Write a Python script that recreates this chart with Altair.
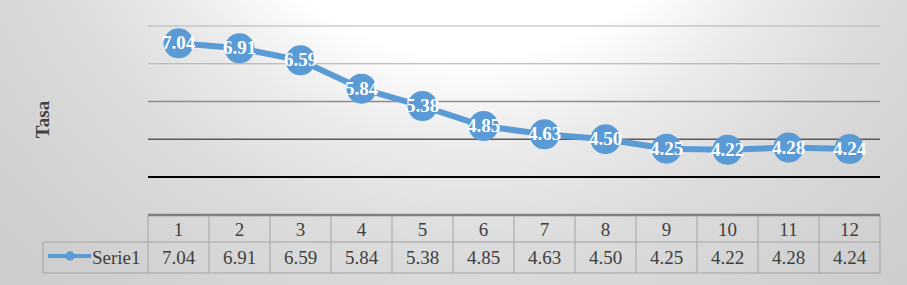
import altair as alt
import pandas as pd

categories = [1, 2, 3, 4, 5, 6, 7, 8, 9, 10, 11, 12]
values = [7.04, 6.91, 6.59, 5.84, 5.38, 4.85, 4.63, 4.50, 4.25, 4.22, 4.28, 4.24]
series_name = "Serie1"
y_title = "Tasa"
grid_values = [3.5, 4.5, 5.5, 6.5, 7.5]
grid_colors = ["#000000", "#5a5a5a", "#8c8c8c", "#acacac", "#b4b4b4"]
grid_widths = [2, 1.5, 1.5, 1, 1]

W, H = 732, 151
BLUE = "#5B9BD5"
FONT = "Liberation Serif"
TXT = "#404040"
TABLE_LINE = "#a3a3a3"

df = pd.DataFrame({"cat": categories, "value": values})
df["label"] = [f"{v:.2f}" for v in values]
grid_df = pd.DataFrame({"g": grid_values, "c": grid_colors, "w": grid_widths})
bounds = [c - 0.5 for c in categories] + [categories[-1] + 0.5]
bounds_df = pd.DataFrame({"b": bounds})
one = pd.DataFrame({"k": [0]})

xs = alt.Scale(domain=[0.5, 12.5], nice=False, zero=False)
ys = alt.Scale(domain=[3.5, 7.5], nice=False, zero=False)
yaxis = alt.Axis(title=y_title, labels=False, ticks=False, domain=False, grid=False,
                 titleX=-106, titleY=93, titleFont=FONT, titleFontSize=19,
                 titleFontWeight="bold", titleColor=TXT, titleAngle=270,
                 titleAlign="center", titleBaseline="middle", zindex=1)

bg = alt.Chart(one).mark_rect(
    fill={"gradient": "radial", "x1": 0.52, "y1": 0.115, "r1": 0,
          "x2": 0.52, "y2": 0.115, "r2": 1,
          "stops": [{"offset": 0, "color": "#ffffff"},
                    {"offset": 0.29, "color": "#ffffff"},
                    {"offset": 0.39, "color": "#ebebeb"},
                    {"offset": 0.5, "color": "#dcdcdc"},
                    {"offset": 0.68, "color": "#cfcfcf"},
                    {"offset": 1, "color": "#c8c8c8"}]}
).encode(x=alt.value(-148), x2=alt.value(W + 27), y=alt.value(-26), y2=alt.value(H + 108))

grid = alt.Chart(grid_df).mark_rule().encode(
    y=alt.Y("g:Q", scale=ys, axis=yaxis),
    x=alt.value(0), x2=alt.value(W),
    color=alt.Color("c:N", scale=None),
    strokeWidth=alt.StrokeWidth("w:Q", scale=None),
)

line = alt.Chart(df).mark_line(color=BLUE, strokeWidth=6).encode(
    x=alt.X("cat:Q", scale=xs, axis=None),
    y=alt.Y("value:Q", scale=ys, axis=yaxis),
)
pts = alt.Chart(df).mark_circle(color=BLUE, opacity=1, size=900).encode(
    x=alt.X("cat:Q", scale=xs, axis=None),
    y=alt.Y("value:Q", scale=ys, axis=yaxis),
)
lbl = alt.Chart(df).mark_text(font=FONT, fontSize=19, fontWeight="bold", color="white",
                              baseline="middle", align="center").encode(
    x=alt.X("cat:Q", scale=xs, axis=None),
    y=alt.Y("value:Q", scale=ys, axis=yaxis),
    text="label:N",
)

# data table
top_border = alt.Chart(one).mark_rule(color="#7f7f7f", strokeWidth=2.5).encode(
    x=alt.value(0), x2=alt.value(W), y=alt.value(189))
mid_line = alt.Chart(one).mark_rule(color=TABLE_LINE, strokeWidth=1).encode(
    x=alt.value(-105), x2=alt.value(W), y=alt.value(216))
bot_line = alt.Chart(one).mark_rule(color=TABLE_LINE, strokeWidth=1).encode(
    x=alt.value(-105), x2=alt.value(W), y=alt.value(247))
left_line = alt.Chart(one).mark_rule(color=TABLE_LINE, strokeWidth=1).encode(
    x=alt.value(-105), y=alt.value(216), y2=alt.value(247))
vlines = alt.Chart(bounds_df).mark_rule(color=TABLE_LINE, strokeWidth=1).encode(
    x=alt.X("b:Q", scale=xs, axis=None), y=alt.value(190), y2=alt.value(247))

cat_txt = alt.Chart(df).mark_text(font=FONT, fontSize=19, color=TXT, baseline="middle").encode(
    x=alt.X("cat:Q", scale=xs, axis=None), y=alt.value(204), text="cat:N")
val_txt = alt.Chart(df).mark_text(font=FONT, fontSize=19, color=TXT, baseline="middle").encode(
    x=alt.X("cat:Q", scale=xs, axis=None), y=alt.value(232), text="label:N")

leg_line = alt.Chart(one).mark_rule(color=BLUE, strokeWidth=4).encode(
    x=alt.value(-100), x2=alt.value(-57), y=alt.value(230))
leg_pt = alt.Chart(one).mark_circle(color=BLUE, opacity=1, size=90).encode(
    x=alt.value(-78), y=alt.value(230))
leg_txt = alt.Chart(pd.DataFrame({"s": [series_name]})).mark_text(
    font=FONT, fontSize=19, color=TXT, baseline="middle", align="left").encode(
    x=alt.value(-56), y=alt.value(232), text="s:N")

chart = alt.layer(
    bg, grid, line, pts, lbl,
    top_border, mid_line, bot_line, left_line, vlines,
    cat_txt, val_txt, leg_line, leg_pt, leg_txt,
).properties(
    width=W, height=H,
    padding={"left": 148, "top": 26, "right": 27, "bottom": 108},
    autosize=alt.AutoSizeParams(type="none"),
    background="#cdcdcd",
).configure_view(stroke=None)

chart.save("out.html", embed_options={"renderer": "svg", "actions": False})
